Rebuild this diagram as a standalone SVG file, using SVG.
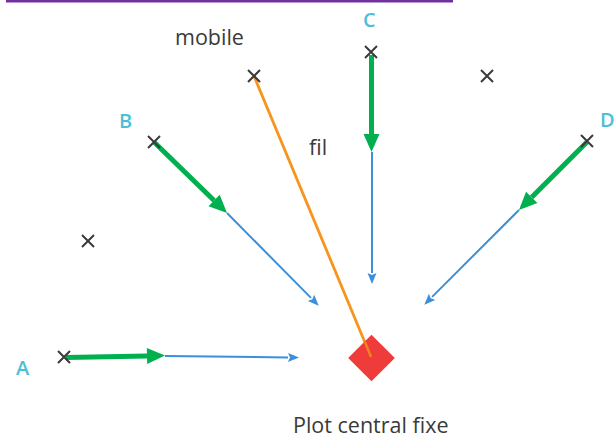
<svg xmlns="http://www.w3.org/2000/svg" xmlns:xlink="http://www.w3.org/1999/xlink" width="615" height="442" viewBox="0 0 615 442">
<style>
.lbl{font-family:"Open Sans","Noto Sans","Liberation Sans",sans-serif;font-size:21.5px;fill:#3a3a3a}
.pt{font-family:"Open Sans","Noto Sans","Liberation Sans",sans-serif;font-size:20px;font-weight:600;fill:#4ac0d6}
.x{stroke:#3a3a3a;stroke-width:2;fill:none}
.g{stroke:#00b04f;stroke-width:5;fill:none;marker-end:url(#ga)}
.b{stroke:#3b8fdb;stroke-width:2;fill:none;marker-end:url(#ba)}
</style>
<defs>
<marker id="ga" markerUnits="userSpaceOnUse" markerWidth="18" markerHeight="16" refX="0" refY="8" orient="auto" overflow="visible"><path d="M0,0 L18,8 L0,16 z" fill="#00b04f"/></marker>
<marker id="ba" markerUnits="userSpaceOnUse" markerWidth="11" markerHeight="9" refX="0" refY="4.5" orient="auto" overflow="visible"><path d="M0,0 L11,4.5 L0,9 L2,4.5 z" fill="#3b8fdb"/></marker>
<path id="xm" d="M-6,-6 L6,6 M6,-6 L-6,6"/>
</defs>
<rect width="615" height="442" fill="#ffffff"/>
<line x1="6" y1="1" x2="453" y2="1" stroke="#7030a0" stroke-width="3"/>
<g id="connectors">
<line x1="254" y1="76" x2="371" y2="357" stroke="#f7941d" stroke-width="2.8"/>
<path class="b" d="M165,356 L288,357.4"/>
<path class="b" d="M227,213 L311,297.9"/>
<path class="b" d="M372,152 L372,273"/>
<path class="b" d="M519,210 L432.1,296.9"/>
<path class="g" d="M66,357.5 L147,355.9"/>
<path class="g" d="M154,142 L214.1,200.45"/>
<path class="g" d="M371.5,55 L371.5,134"/>
<path class="g" d="M587,142 L531.7,197.3"/>
</g>
<g id="mobile"><use xlink:href="#xm" class="x" x="254" y="76"/><text class="lbl" x="175" y="45">mobile</text></g>
<g id="fil"><text class="lbl" x="309" y="155">fil</text></g>
<g id="pointA"><use xlink:href="#xm" class="x" x="64" y="357"/><text class="pt" x="16" y="375">A</text></g>
<g id="pointB"><use xlink:href="#xm" class="x" x="154" y="142"/><text class="pt" x="119" y="128">B</text></g>
<g id="pointC"><use xlink:href="#xm" class="x" x="371" y="52"/><text class="pt" x="363" y="27">C</text></g>
<g id="pointD"><use xlink:href="#xm" class="x" x="587" y="141"/><text class="pt" x="600" y="127">D</text></g>
<g id="x1"><use xlink:href="#xm" class="x" x="487" y="76"/></g>
<g id="x2"><use xlink:href="#xm" class="x" x="88" y="241"/></g>
<g id="plot"><rect x="355" y="341.5" width="33" height="33" fill="#ef3b39" transform="rotate(45 371.5 358)"/><line x1="365" y1="342" x2="371" y2="357" stroke="#f7941d" stroke-width="2.5" opacity="0.8"/><text class="lbl" x="293" y="433">Plot central fixe</text></g>
</svg>
